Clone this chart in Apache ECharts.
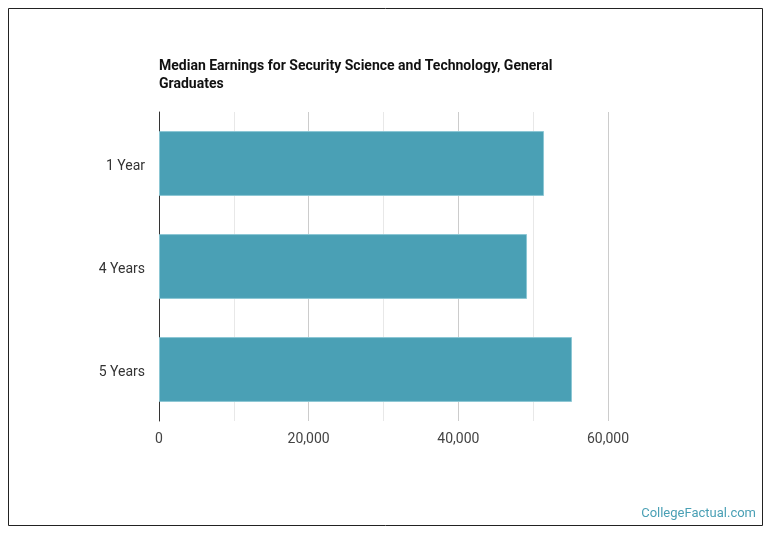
<!DOCTYPE html>
<html>
<head>
<meta charset="utf-8">
<script src="https://cdn.jsdelivr.net/npm/echarts@6/dist/echarts.min.js"></script>
<style>
  html, body { margin: 0; padding: 0; background: #fff; }
  #chart { width: 770px; height: 536px; }
</style>
</head>
<body>
<div id="chart"></div>
<script>
  // 数据
  const categories = ['1 Year', '4 Years', '5 Years'];
  const earnings = [51450, 49180, 55190];
  const titleLines = ['Median Earnings for Security Science and Technology, General', 'Graduates'];

  const myChart = echarts.init(document.getElementById('chart'));
  const option = {
    backgroundColor: '#fff',
    animation: false,
    textStyle: { fontFamily: 'Roboto' },
    title: {
      text: titleLines.join('\n'),
      left: 154,
      top: 52,
      textStyle: {
        fontFamily: 'Roboto',
        fontSize: 14,
        fontWeight: 'bold',
        color: '#111',
        lineHeight: 18,
      },
    },
    graphic: [
      {
        type: 'rect',
        shape: { x: 8.5, y: 8.5, width: 754, height: 517 },
        style: { fill: 'none', stroke: '#222', lineWidth: 1 },
        silent: true,
      },
      {
        type: 'text',
        right: 14,
        top: 507,
        style: {
          text: 'CollegeFactual.com',
          fill: '#4aa0b5',
          font: '13px Roboto',
        },
      },
    ],
    grid: {
      left: 159,
      right: 162,
      top: 112,
      bottom: 115,
    },
    xAxis: {
      type: 'value',
      min: 0,
      max: 60000,
      interval: 20000,
      axisLine: { show: false },
      axisTick: { show: false },
      axisLabel: {
        color: '#444',
        fontSize: 14,
        margin: 11,
        formatter: v => v.toLocaleString('en-US'),
      },
      splitLine: {
        show: true,
        lineStyle: { color: '#ccc', width: 1 },
      },
      minorTick: { show: false, splitNumber: 2 },
      minorSplitLine: {
        show: true,
        lineStyle: { color: '#e8e8e8', width: 1 },
      },
    },
    yAxis: {
      type: 'category',
      inverse: true,
      data: categories,
      axisLine: { show: true, lineStyle: { color: '#333', width: 1 } },
      axisTick: { show: false },
      axisLabel: {
        margin: 14,
        formatter: v => '{a|' + v + '}',
        rich: {
          a: {
            color: '#333',
            fontSize: 14,
            fontFamily: 'Roboto',
            padding: [5, 0, 0, 0],
          },
        },
      },
      splitLine: { show: false },
    },
    series: [
      {
        type: 'bar',
        data: earnings,
        barCategoryGap: '37%',
        itemStyle: {
          color: '#4aa0b5',
          borderColor: '#8cc7d4',
          borderWidth: 1,
        },
      },
    ],
  };
  myChart.setOption(option);
</script>
</body>
</html>
